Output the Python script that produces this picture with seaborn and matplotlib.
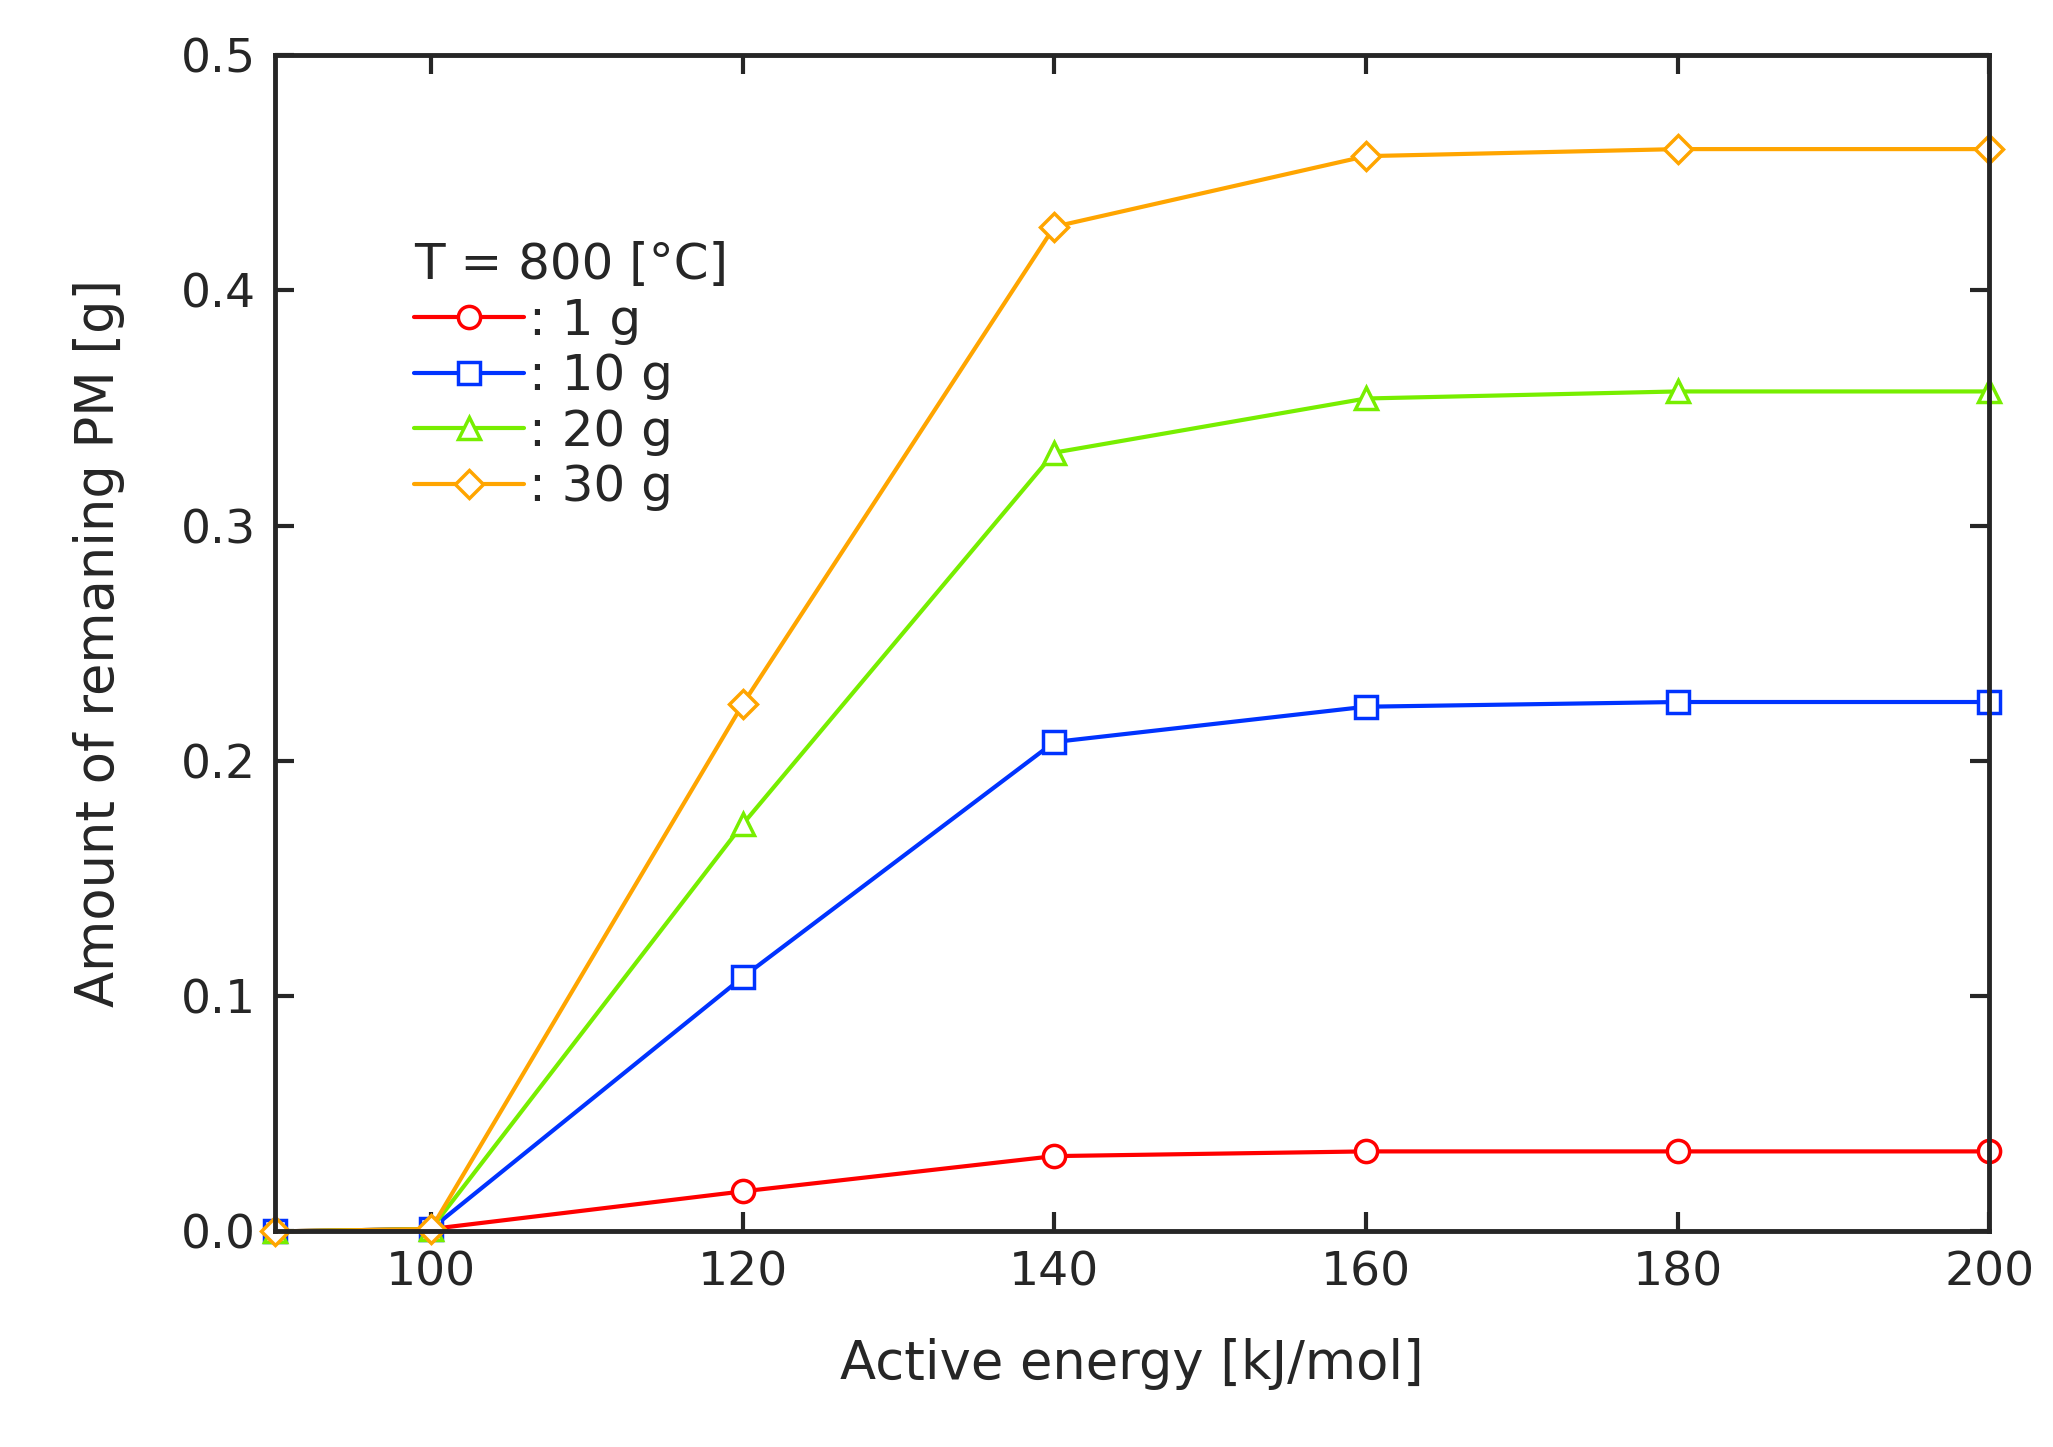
import pandas as pd
import matplotlib.pyplot as plt
import seaborn as sns

# -----------------------------
# Data
# -----------------------------
energy = [90, 100, 120, 140, 160, 180, 200]
pm_1g = [0.0, 0.001, 0.017, 0.032, 0.034, 0.034, 0.034]
pm_10g = [0.0, 0.001, 0.108, 0.208, 0.223, 0.225, 0.225]
pm_20g = [0.0, 0.001, 0.173, 0.331, 0.354, 0.357, 0.357]
pm_30g = [0.0, 0.001, 0.224, 0.427, 0.457, 0.460, 0.460]
labels = [": 1 g", ": 10 g", ": 20 g", ": 30 g"]

series = [pm_1g, pm_10g, pm_20g, pm_30g]
colors = ["#ff0000", "#0033ff", "#77ee00", "#ffa500"]
markers = ["o", "s", "^", "D"]

plt.rcParams["font.family"] = "Liberation Serif"
sns.set_style("ticks")

fig = plt.figure(figsize=(20.53, 14.47), dpi=100)
ax = fig.add_axes([0.134, 0.149, 0.835, 0.813])

for vals, lab, col, mk in zip(series, labels, colors, markers):
    df = pd.DataFrame({"energy": energy, "pm": vals})
    sns.lineplot(data=df, x="energy", y="pm", ax=ax, color=col, marker=mk,
                 markersize=16 if mk != "D" else 14, markerfacecolor="white",
                 markeredgecolor=col, markeredgewidth=2.5, linewidth=3,
                 label=lab, clip_on=False)

ax.set_xlim(90, 200)
ax.set_ylim(0, 0.5)
ax.set_xticks([100, 120, 140, 160, 180, 200])
ax.set_yticks([0.0, 0.1, 0.2, 0.3, 0.4, 0.5])
ax.yaxis.set_major_formatter(plt.FormatStrFormatter("%.1f"))
ax.tick_params(direction="in", length=14, width=3, labelsize=34, pad=14,
               top=True, right=True)
for s in ax.spines.values():
    s.set_linewidth(3.5)

ax.set_xlabel("Active energy [kJ/mol]", fontsize=38, labelpad=30)
ax.set_ylabel("Amount of remaning PM [g]", fontsize=38, labelpad=40)

leg = ax.legend(title="T = 800 [°C]", loc="upper left", bbox_to_anchor=(0.055, 0.88),
                frameon=False, fontsize=36, title_fontsize=36, handlelength=2.2,
                handletextpad=0.1, labelspacing=0.15)
leg._legend_box.align = "left"

fig.savefig("out.png", dpi=100)
